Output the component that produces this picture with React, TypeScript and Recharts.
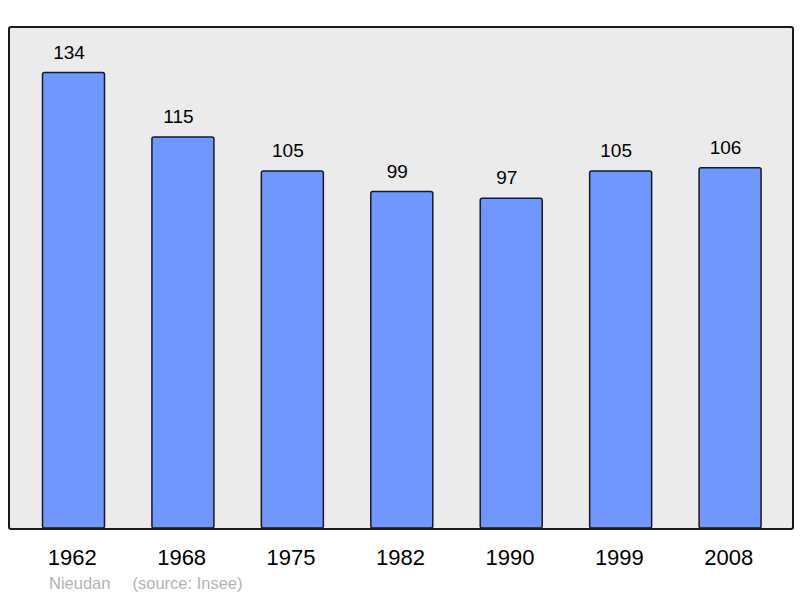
import { Bar, BarChart, LabelList, XAxis, YAxis } from "recharts";

const years = ["1962", "1968", "1975", "1982", "1990", "1999", "2008"];
const population = [134, 115, 105, 99, 97, 105, 106];

const font = "'Liberation Sans', Arial, sans-serif";

export default function App() {
  const data = years.map((y, i) => ({ year: y, pop: population[i] }));
  return (
    <div style={{ position: "absolute", left: 0, top: 0, width: 800, height: 598, fontFamily: font }}>
      {/* plot background + frame */}
      <div
        style={{
          position: "absolute",
          left: 8,
          top: 26,
          width: 781.5,
          height: 500,
          background: "#ebebeb",
          border: "2px solid #1a1a1a",
          borderRadius: 3,
        }}
      />
      <div style={{ position: "absolute", left: 0, top: 0 }}>
        <BarChart
          width={800}
          height={598}
          data={data}
          margin={{ top: 27, left: 9, right: 9.5, bottom: 30 }}
        >
          <XAxis
            dataKey="year"
            axisLine={false}
            tickLine={false}
            tickSize={0}
            tickMargin={21}
            height={40}
            padding={{ left: 9.5, right: 6 }}
            tick={{ fill: "#000", fontSize: 22, fontFamily: font, dx: -1 }}
          />
          <YAxis hide domain={[0, 147.4]} />
          <Bar
            dataKey="pop"
            fill="#7096ff"
            stroke="#1a1a1a"
            strokeWidth={1.5}
            barSize={62}
            radius={2}
            isAnimationActive={false}
          >
            <LabelList
              dataKey="pop"
              position="top"
              offset={14}
              dx={-4.5}
              fill="#000"
              fontSize={19}
              fontFamily={font}
            />
          </Bar>
        </BarChart>
      </div>
      <div style={{ position: "absolute", left: 49, top: 574, fontSize: 16.5, color: "#b3b3b3" }}>
        Nieudan
      </div>
      <div style={{ position: "absolute", left: 132.5, top: 574, fontSize: 16.5, color: "#b3b3b3" }}>
        (source: Insee)
      </div>
    </div>
  );
}
